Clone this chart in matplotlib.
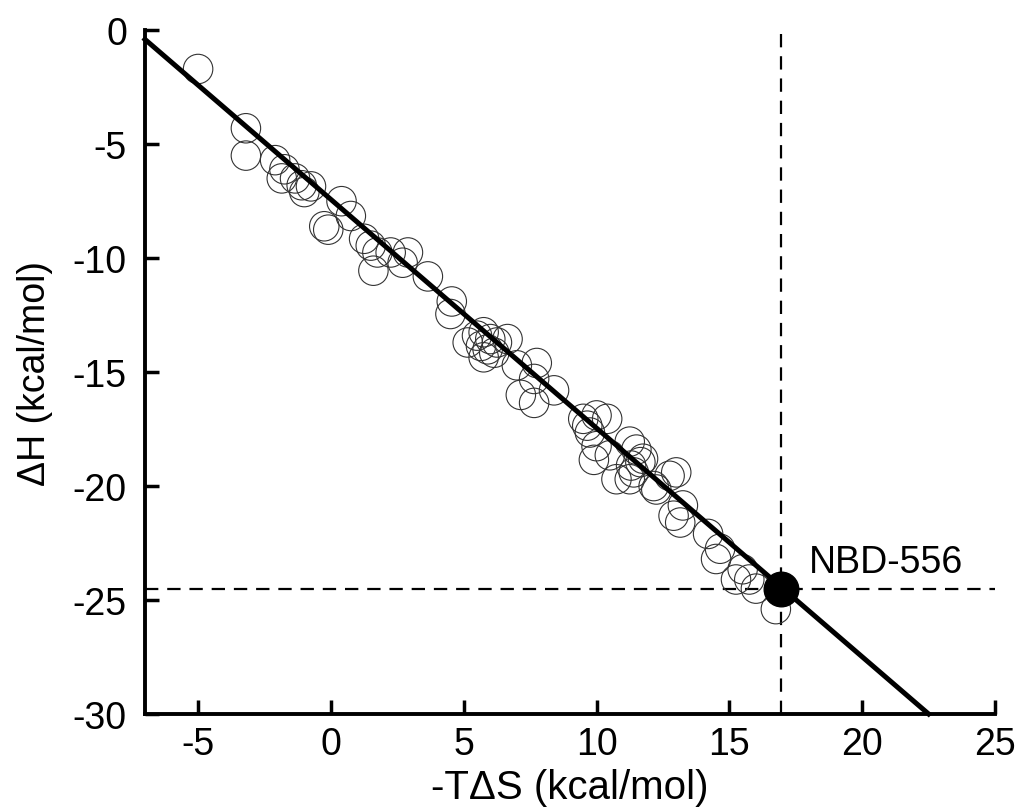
import matplotlib.pyplot as plt
import numpy as np

plt.rcParams['font.family'] = ['Liberation Sans', 'DejaVu Sans']
plt.rcParams['axes.unicode_minus'] = False

# -T*dS (kcal/mol) and dH (kcal/mol) for the series of compounds
minus_tds = [-5.0, -3.2, -3.2, -2.1, -1.75, -1.85, -1.35, -1.1, -0.75, -1.0,
             0.4, -0.25, -0.1, 0.75, 1.25, 1.5, 1.75, 1.6, 2.25, 2.7,
             2.9, 3.65, 4.55, 4.5,
             5.5, 5.75, 6.0, 5.65, 5.9, 5.15, 6.25, 6.65, 6.15, 5.75,
             7.0, 7.75, 7.65, 7.15, 7.65, 8.4,
             9.5, 10.0, 10.4, 9.75, 9.65,
             10.0, 9.9, 10.5, 10.75, 11.25, 11.5, 11.75, 11.4, 11.25, 12.15,
             12.75, 13.0, 12.9, 13.25, 11.65, 11.3, 12.25, 13.15, 14.2,
             14.65, 14.5, 15.5, 15.25, 15.75, 16.0, 16.75]
delta_h = [-1.7, -4.3, -5.5, -5.7, -6.1, -6.5, -6.5, -6.8, -6.85, -7.1,
           -7.5, -8.6, -8.75, -8.15, -9.15, -9.45, -9.75, -10.55, -9.75, -10.2,
           -9.75, -10.8, -11.9, -12.45,
           -13.4, -13.25, -13.55, -13.85, -14.0, -13.7, -13.7, -13.55, -14.15, -14.35,
           -14.7, -14.6, -15.3, -16.0, -16.35, -15.8,
           -17.05, -16.9, -17.05, -17.65, -17.35,
           -18.25, -18.85, -18.65, -19.7, -18.05, -18.4, -18.8, -19.4, -19.7, -20.0,
           -19.55, -19.4, -21.3, -20.85, -18.95, -19.1, -20.15, -21.6, -22.1,
           -22.75, -23.2, -23.65, -24.1, -24.1, -24.5, -25.4]

# highlighted compound
nbd_tds = 16.95
nbd_dh = -24.5
nbd_name = "NBD-556"

# compensation line (constant dG)
line_x = [-7.0, 22.5]
line_y = [-0.4, -30.0]

x_ticks = [-5, 0, 5, 10, 15, 20, 25]
y_ticks = [0, -5, -10, -15, -20, -25, -30]

fig = plt.figure(figsize=(10.18, 8.12), dpi=100)
ax = fig.add_axes([0.1424, 0.1195, 0.835, 0.842])

ax.scatter(minus_tds, delta_h, s=450, facecolors='none', edgecolors='#333333',
           linewidths=0.8, zorder=2)
ax.plot(line_x, line_y, color='black', lw=3.6, zorder=3, clip_on=False)
ax.axvline(nbd_tds, color='black', lw=1.6, dashes=(6, 4), zorder=1)
ax.axhline(nbd_dh, color='black', lw=1.6, dashes=(6, 4), zorder=1)
ax.scatter([nbd_tds], [nbd_dh], s=620, color='black', zorder=4)
ax.text(nbd_tds + 1.05, nbd_dh + 0.4, nbd_name, fontsize=27, va='bottom', ha='left')

ax.set_xlim(-7, 25)
ax.set_ylim(-30, 0)
ax.set_xticks(x_ticks)
ax.set_yticks(y_ticks)
ax.tick_params(direction='in', length=10, width=2.5, labelsize=27)
ax.tick_params(axis='x', pad=9)
ax.tick_params(axis='y', pad=13)
for side in ['top', 'right']:
    ax.spines[side].set_visible(False)
for side in ['left', 'bottom']:
    ax.spines[side].set_linewidth(2.8)

ax.set_xlabel("-T\u0394S (kcal/mol)", fontsize=29, labelpad=4)
ax.set_ylabel("\u0394H (kcal/mol)", fontsize=27, labelpad=14)

fig.savefig("out.png", dpi=100)
